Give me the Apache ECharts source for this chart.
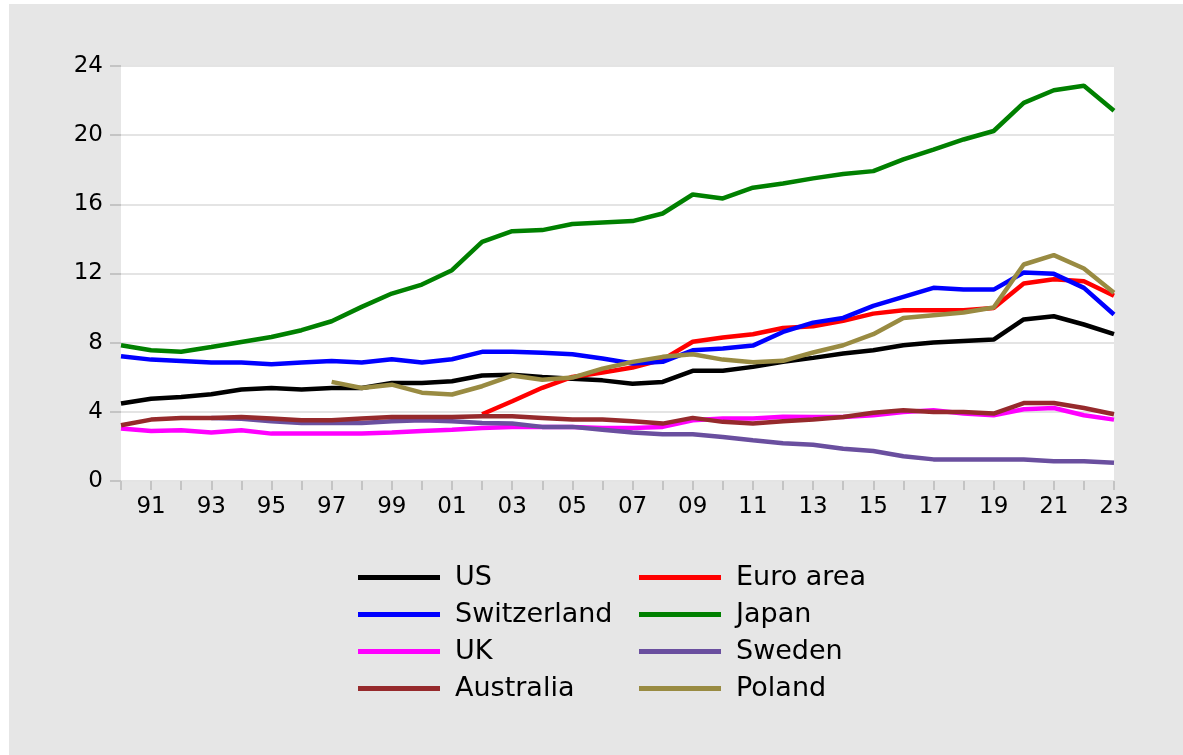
<!DOCTYPE html>
<html>
<head>
<meta charset="utf-8">
<script src="https://cdn.jsdelivr.net/npm/echarts@6.0.0/dist/echarts.min.js"></script>
<style>
  html, body { margin: 0; padding: 0; background: #ffffff; width: 1183px; height: 755px; overflow: hidden; }
  #chart { position: absolute; left: 9px; top: 4px; width: 1174px; height: 751px; background: #e6e6e6; }
</style>
</head>
<body>
<div id="chart"></div>
<script>
const years = ['1990','1991','1992','1993','1994','1995','1996','1997','1998','1999','2000','2001','2002','2003','2004','2005','2006','2007','2008','2009','2010','2011','2012','2013','2014','2015','2016','2017','2018','2019','2020','2021','2022','2023'];

const usValues = [4.48,4.76,4.86,5.02,5.29,5.38,5.29,5.38,5.38,5.67,5.67,5.77,6.10,6.14,6.02,5.92,5.82,5.63,5.73,6.37,6.37,6.60,6.90,7.12,7.37,7.56,7.85,8.01,8.10,8.18,9.34,9.53,9.05,8.49];
const euroValues = [null,null,null,null,null,null,null,null,null,null,null,null,3.86,4.61,5.39,6.02,6.27,6.56,7.02,8.05,8.30,8.49,8.85,8.95,9.26,9.68,9.88,9.88,9.88,10.01,11.42,11.67,11.55,10.71];
const swissValues = [7.21,7.02,6.94,6.85,6.85,6.75,6.85,6.94,6.85,7.04,6.85,7.04,7.47,7.47,7.41,7.33,7.08,6.79,6.89,7.56,7.66,7.83,8.62,9.16,9.43,10.13,10.65,11.17,11.07,11.07,12.06,11.98,11.17,9.63];
const japanValues = [7.85,7.56,7.47,7.75,8.04,8.33,8.72,9.24,10.07,10.84,11.36,12.19,13.83,14.45,14.51,14.86,14.95,15.03,15.47,16.57,16.34,16.96,17.21,17.50,17.75,17.92,18.60,19.17,19.75,20.24,21.87,22.60,22.86,21.41];
const ukValues = [3.03,2.89,2.93,2.80,2.93,2.74,2.74,2.74,2.74,2.80,2.89,2.97,3.07,3.13,3.13,3.13,3.07,3.07,3.13,3.51,3.61,3.61,3.71,3.70,3.70,3.80,3.99,4.09,3.90,3.80,4.15,4.22,3.80,3.55];
const swedenValues = [null,null,null,3.65,3.60,3.45,3.36,3.36,3.36,3.45,3.51,3.45,3.36,3.32,3.13,3.13,2.97,2.80,2.70,2.70,2.55,2.36,2.18,2.10,1.87,1.74,1.43,1.25,1.25,1.25,1.25,1.14,1.14,1.06];
const australiaValues = [3.22,3.55,3.65,3.65,3.70,3.61,3.51,3.51,3.61,3.70,3.70,3.70,3.75,3.75,3.65,3.55,3.55,3.46,3.32,3.65,3.42,3.32,3.46,3.55,3.70,3.95,4.09,3.99,3.99,3.90,4.51,4.51,4.22,3.86];
const polandValues = [null,null,null,null,null,null,null,5.73,5.38,5.57,5.11,5.00,5.48,6.10,5.86,5.98,6.50,6.89,7.18,7.33,7.02,6.87,6.95,7.43,7.85,8.49,9.43,9.59,9.74,10.03,12.52,13.06,12.29,10.88];

const seriesNames = ['US','Euro area','Switzerland','Japan','UK','Sweden','Australia','Poland'];
const seriesColors = ['#000000','#ff0000','#0000ff','#008000','#ff00ff','#6a4f9f','#962a2c','#998b42'];
const seriesData = [usValues, euroValues, swissValues, japanValues, ukValues, swedenValues, australiaValues, polandValues];

const yTicks = { min: 0, max: 24, interval: 4 };
const FONT = 'DejaVu Sans';

const chart = echarts.init(document.getElementById('chart'), null, { renderer: 'canvas' });

const legendCommon = {
  orient: 'vertical',
  icon: 'rect',
  itemWidth: 82,
  itemHeight: 5,
  itemGap: 10,
  textStyle: { fontFamily: FONT, fontSize: 27, lineHeight: 27, color: '#000', padding: [0, 0, 0, 10] },
  selectedMode: false
};

chart.setOption({
  animation: false,
  grid: {
    left: 112, right: 69, top: 62, bottom: 274,
    show: true, backgroundColor: '#ffffff', borderWidth: 0
  },
  legend: [
    Object.assign({ left: 344, top: 555, data: ['US','Switzerland','UK','Australia'] }, legendCommon),
    Object.assign({ left: 625, top: 555, data: ['Euro area','Japan','Sweden','Poland'] }, legendCommon)
  ],
  xAxis: {
    type: 'category',
    data: years,
    boundaryGap: false,
    axisLine: { show: false },
    axisTick: { show: true, interval: 0, length: 9, lineStyle: { color: '#c4c4c4', width: 2 } },
    axisLabel: {
      interval: function (i) { return i % 2 === 1; },
      formatter: function (v) { return v.slice(2); },
      fontFamily: FONT, fontSize: 23, color: '#000', margin: 15
    },
    splitLine: { show: false }
  },
  yAxis: {
    type: 'value',
    min: yTicks.min, max: yTicks.max, interval: yTicks.interval,
    axisLine: { show: false },
    axisTick: { show: true, length: 11, lineStyle: { color: '#c4c4c4', width: 2 } },
    axisLabel: { fontFamily: FONT, fontSize: 23, color: '#000', margin: 18 },
    splitLine: { show: true, lineStyle: { color: '#e4e4e4', width: 2 } }
  },
  series: seriesNames.map(function (name, i) {
    return {
      name: name,
      type: 'line',
      data: seriesData[i],
      showSymbol: false,
      symbol: 'none',
      connectNulls: false,
      lineStyle: { color: seriesColors[i], width: 4.5 },
      itemStyle: { color: seriesColors[i] },
      emphasis: { disabled: true },
      z: 2 + i
    };
  })
});
</script>
</body>
</html>
